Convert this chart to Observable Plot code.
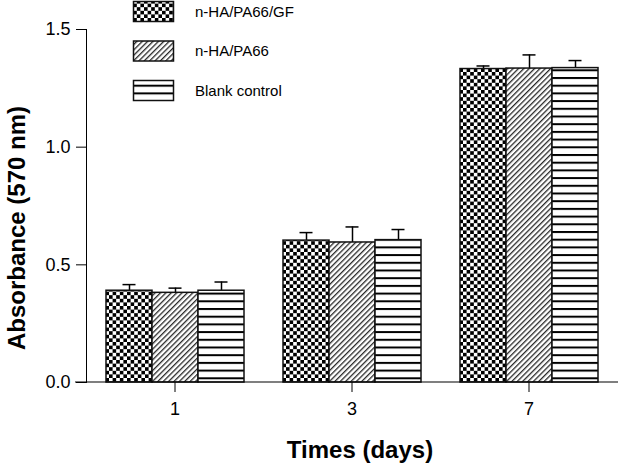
<!DOCTYPE html>
<html><head><meta charset="utf-8">
<script src="https://cdn.jsdelivr.net/npm/d3@7"></script>
<script src="https://cdn.jsdelivr.net/npm/@observablehq/plot@0.6"></script>
<style>body{margin:0;background:#fff;} #chart{width:618px;height:468px;}</style>
</head><body><div id="chart"></div>
<script>
const days = ["1", "3", "7"];
const seriesNames = ["n-HA/PA66/GF", "n-HA/PA66", "Blank control"];
const meanGF = [0.390, 0.603, 1.332];
const meanPA = [0.381, 0.595, 1.334];
const meanBlank = [0.390, 0.605, 1.336];
const errGF = [0.026, 0.034, 0.013];
const errPA = [0.020, 0.066, 0.058];
const errBlank = [0.037, 0.045, 0.032];
const yTicks = [0, 0.5, 1.0, 1.5];
const patternIds = ["pChecker", "pDiag", "pHoriz"];

const means = [meanGF, meanPA, meanBlank];
const errs = [errGF, errPA, errBlank];
const rows = [];
days.forEach((d, i) => seriesNames.forEach((s, j) => {
  rows.push({day: d, series: s, mean: means[j][i], err: errs[j][i], top: means[j][i] + errs[j][i]});
}));

const plot = Plot.plot({
  width: 618,
  height: 468,
  marginTop: 29,
  marginBottom: 86,
  marginLeft: 85,
  marginRight: 1,
  style: {fontFamily: "'Liberation Sans', Arial, sans-serif", fontSize: "18px", color: "black", background: "white"},
  fx: {domain: days, paddingInner: 0, paddingOuter: 0, axis: "bottom", label: null, tickSize: 10, tickPadding: 10},
  x: {domain: seriesNames, paddingInner: 0, paddingOuter: 0.41, axis: null},
  y: {domain: [0, 1.5], ticks: yTicks, tickFormat: d3.format(".1f"), tickSize: 10, tickPadding: 6, line: true, label: null},
  color: {domain: seriesNames, range: patternIds.map(id => `url(#${id})`)},
  marks: [
    Plot.ruleX(rows, {fx: "day", x: "series", y1: "mean", y2: "top", stroke: "black", strokeWidth: 1.5}),
    Plot.tickY(rows, {fx: "day", x: "series", y: "top", stroke: "black", strokeWidth: 1.5, insetLeft: 16.5, insetRight: 16.5}),
    Plot.barY(rows, {fx: "day", x: "series", y: "mean", fill: "series", stroke: "#111", strokeWidth: 1.5})
  ]
});

const svg = d3.select(plot);
const defs = svg.insert("defs", ":first-child");
const pc = defs.append("pattern").attr("id", "pChecker").attr("width", 7.2).attr("height", 7.2).attr("patternUnits", "userSpaceOnUse");
pc.append("rect").attr("width", 7.2).attr("height", 7.2).attr("fill", "white");
pc.append("rect").attr("width", 3.6).attr("height", 3.6).attr("fill", "black");
pc.append("rect").attr("x", 3.6).attr("y", 3.6).attr("width", 3.6).attr("height", 3.6).attr("fill", "black");
const pd = defs.append("pattern").attr("id", "pDiag").attr("width", 3.8).attr("height", 3.8).attr("patternUnits", "userSpaceOnUse").attr("patternTransform", "rotate(45)");
pd.append("rect").attr("width", 3.8).attr("height", 3.8).attr("fill", "white");
pd.append("line").attr("x1", 0.7).attr("y1", 0).attr("x2", 0.7).attr("y2", 3.8).attr("stroke", "black").attr("stroke-width", 1.1);
const ph = defs.append("pattern").attr("id", "pHoriz").attr("width", 8).attr("height", 7.7).attr("patternUnits", "userSpaceOnUse");
ph.append("rect").attr("width", 8).attr("height", 7.7).attr("fill", "white");
ph.append("rect").attr("y", 0).attr("width", 8).attr("height", 2).attr("fill", "black");

// baseline across the full width
const ys = plot.scale("y");
const y0 = ys.apply(0);
svg.append("line").attr("x1", 75).attr("x2", 618).attr("y1", y0).attr("y2", y0).attr("stroke", "black").attr("stroke-width", 1.2);

// legend
const leg = svg.append("g").attr("text-anchor", "start");
seriesNames.forEach((s, i) => {
  leg.append("rect").attr("x", 133.5).attr("y", 1.5 + i * 39.5).attr("width", 40).attr("height", 20)
    .attr("fill", `url(#${patternIds[i]})`).attr("stroke", "#111").attr("stroke-width", 1.5);
  leg.append("text").attr("x", 195).attr("y", 11.5 + i * 39.5).attr("dy", "0.36em")
    .attr("text-anchor", "start").attr("font-size", 15).attr("fill", "black").text(s);
});

// axis titles
svg.append("text").attr("transform", "translate(25,228) rotate(-90)").attr("text-anchor", "middle")
  .attr("font-size", 24).attr("font-weight", "bold").attr("fill", "black").text("Absorbance (570 nm)");
svg.append("text").attr("x", 360).attr("y", 458).attr("text-anchor", "middle")
  .attr("font-size", 24).attr("font-weight", "bold").attr("fill", "black").text("Times (days)");

document.getElementById("chart").append(plot);
</script></body></html>
